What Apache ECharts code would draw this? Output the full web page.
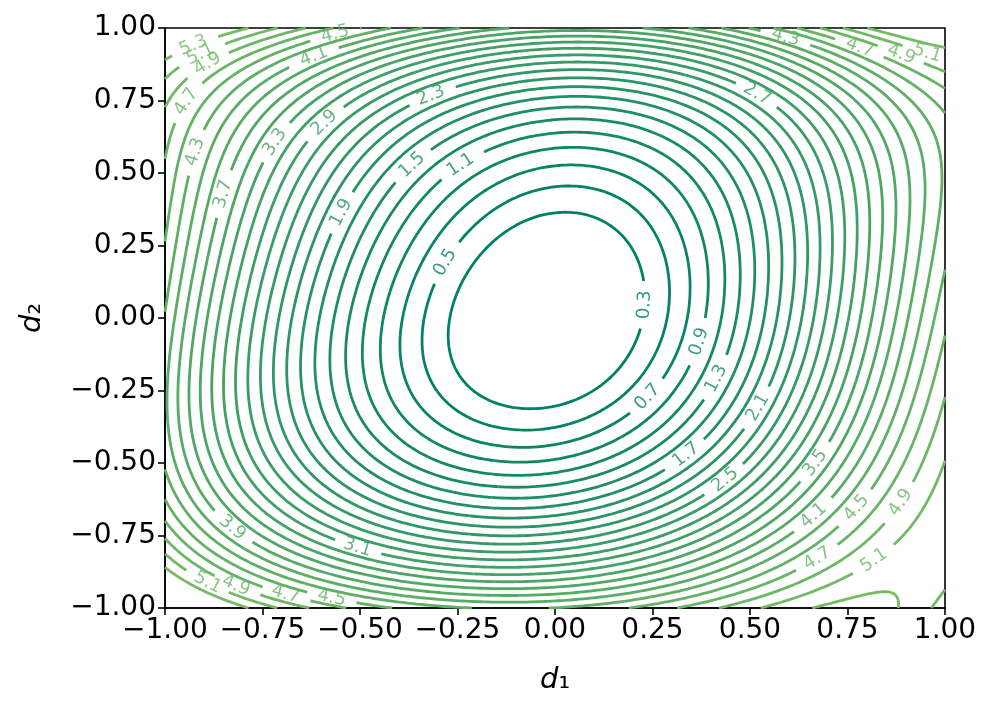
<!DOCTYPE html>
<html>
<head>
<meta charset="utf-8">
<script src="https://cdn.jsdelivr.net/npm/echarts@6/dist/echarts.min.js"></script>
<style>
  html, body { margin: 0; background: #fff; }
  #main { width: 996px; height: 710px; }
</style>
</head>
<body>
<div id="main"></div>
<script>
// contour levels drawn in the picture
const levels = [0.3, 0.5, 0.7, 0.9, 1.1, 1.3, 1.5, 1.7, 1.9, 2.1, 2.3, 2.5, 2.7,
                2.9, 3.1, 3.3, 3.5, 3.7, 3.9, 4.1, 4.3, 4.5, 4.7, 4.9, 5.1, 5.3];
const axisTicks = [-1, -0.75, -0.5, -0.25, 0, 0.25, 0.5, 0.75, 1];

// inline labels: level, d1, d2
const labelLevel = [5.3, 5.1, 4.9, 4.7, 4.3, 3.7, 4.5, 4.1, 3.3, 2.9, 1.9, 1.5, 1.1, 2.3, 0.5,
                    0.3, 0.7, 0.9, 1.7, 1.3, 2.1, 2.5, 3.5, 4.1, 4.5, 4.7, 4.9, 5.1,
                    4.3, 4.7, 4.9, 5.1, 2.7, 3.9, 3.1, 4.9, 4.7, 4.5, 5.1];
const labelD1 = [-0.932, -0.893, -0.855, -0.889, -0.885, -0.851, -0.560, -0.604, -0.679, -0.568, -0.560, -0.376, -0.248, -0.315, -0.291,
                 0.242, 0.237, 0.364, 0.315, 0.397, 0.483, 0.397, 0.603, 0.603, 0.722, 0.641, 0.880, 0.867,
                 0.573, 0.761, 0.867, 0.962, 0.479, -0.761, -0.487, -0.803, -0.679, -0.560, -0.893];
const labelD2 = [0.959, 0.867, 0.803, 0.689, 0.556, 0.430, 0.970, 0.849, 0.568, 0.637, 0.372, 0.539, 0.545, 0.752, 0.200,
                 0.045, -0.266, -0.083, -0.426, -0.202, -0.283, -0.490, -0.438, -0.599, -0.587, -0.766, -0.633, -0.927,
                 0.884, 0.849, 0.844, 0.930, 0.671, -0.616, -0.708, -0.886, -0.892, -0.909, -0.921];

// contour crossings along d2 = 0
const rowLevel = [0.3, 0.5, 0.7, 0.9, 1.1, 1.3, 1.5, 1.7, 1.9, 2.1, 2.3, 2.5, 2.7, 2.9, 3.1, 3.3, 3.5, 3.7, 3.9, 4.1,
                  0.3, 0.5, 0.7, 0.9, 1.1, 1.3, 1.5, 1.7, 1.9, 2.1, 2.3, 2.5, 2.7, 2.9, 3.1, 3.3, 3.5, 3.7, 3.9, 4.1, 4.3, 4.5];
const rowD1 = [-0.26, -0.346, -0.41, -0.464, -0.51, -0.551, -0.587, -0.622, -0.656, -0.688, -0.72, -0.75, -0.782, -0.81, -0.841, -0.872, -0.9, -0.929, -0.962, -0.99,
               0.237, 0.308, 0.353, 0.404, 0.449, 0.487, 0.519, 0.551, 0.579, 0.609, 0.638, 0.667, 0.695, 0.724, 0.754, 0.785, 0.814, 0.846, 0.878, 0.914, 0.955, 0.991];

// the innermost rings (extremes) and the bottom of the bowl
const ringLevel = [0.3, 0.3, 0.3, 0.3, 0.3, 0.5, 0.5, 0.5, 0.5, 0.5, 0.7, 0.0];
const ringD1 = [0.25, -0.272, 0.064, -0.081, 0, 0.03, -0.364, 0.325, -0.08, 0, 0.004, -0.01];
const ringD2 = [0.097, -0.087, 0.369, -0.349, 0.353, 0.478, -0.064, 0.062, -0.42, 0.462, 0.551, 0.01];

// outer contours: where they meet the frame (bottom, top, left, right),
// points along the two lowest-right lines, then the four corners
const edgeLevel = [4.5, 4.5, 4.7, 4.7, 4.9, 4.9, 5.1, 5.1, 4.3,
                   5.3, 5.1, 5.1, 4.9, 4.9, 4.7, 4.5, 4.3,
                   5.3, 5.1, 4.9, 4.7, 4.3, 4.5, 4.7, 4.9, 5.1,
                   5.1, 4.9, 4.7, 4.7, 4.9, 5.1,
                   5.1, 5.1, 4.9,
                   5.4, 5.18, 5.28, 5.22];
const edgeD1 = [-0.36, 0.15, -0.49, 0.33, -0.62, 0.48, -0.79, 0.744, -0.09,
                -0.87, -0.73, 0.918, -0.61, 0.71, 0.585, -0.52, 0.40,
                -1, -1, -1, -1, -1, -1, -1, -1, -1,
                1, 1, 1, 1, 1, 1,
                0.816, 0.919, 0.68,
                -1, 1, 1, -1];
const edgeD2 = [-1, -1, -1, -1, -1, -1, -1, -1, -0.985,
                1, 1, 1, 1, 1, 1, 1, 1,
                0.884, 0.752, 0.648, 0.552, 0.441, -0.47, -0.58, -0.686, -0.824,
                0.88, 0.694, 0.465, -0.155, -0.444, -0.81,
                -0.961, -0.886, -0.86,
                1, 1, -1, -1];

// ---- smooth surface through the read points (weighted least squares, degree 5) ----
const DEG = 5;
function basis(x, y) {
  const b = [];
  for (let d = 0; d <= DEG; d++)
    for (let j = 0; j <= d; j++) b.push(Math.pow(x, d - j) * Math.pow(y, j));
  return b;
}

function fitSurface(xs, ys, zs, ws) {
  const m = basis(0, 0).length;
  const M = Array.from({ length: m }, () => new Array(m + 1).fill(0));
  for (let k = 0; k < zs.length; k++) {
    const b = basis(xs[k], ys[k]);
    const w = ws[k] / (zs[k] + 0.05);
    for (let i = 0; i < m; i++) {
      for (let j = 0; j < m; j++) M[i][j] += w * b[i] * b[j];
      M[i][m] += w * b[i] * zs[k];
    }
  }
  for (let i = 0; i < m; i++) M[i][i] += 1e-3;
  for (let c = 0; c < m; c++) {
    let p = c;
    for (let r = c + 1; r < m; r++) if (Math.abs(M[r][c]) > Math.abs(M[p][c])) p = r;
    [M[c], M[p]] = [M[p], M[c]];
    for (let r = 0; r < m; r++) {
      if (r === c) continue;
      const f = M[r][c] / M[c][c];
      for (let k = c; k <= m; k++) M[r][k] -= f * M[c][k];
    }
  }
  return M.map((row, i) => row[m] / row[i]);
}

const sx = [].concat(labelD1, rowD1, ringD1, edgeD1);
const sy = [].concat(labelD2, rowD1.map(() => 0), ringD2, edgeD2);
const sz = [].concat(labelLevel, rowLevel, ringLevel, edgeLevel);
const sw = [].concat(labelLevel.map(() => 1.5), rowLevel.map(() => 1), ringLevel.map(() => 8), edgeLevel.map(() => 2));
const coef = fitSurface(sx, sy, sz, sw);
const surface = (x, y) => basis(x, y).reduce((s, b, i) => s + b * coef[i], 0);

// ---- marching squares ----
const N = 220;
const gx = [], gy = [];
for (let i = 0; i <= N; i++) { gx.push(-1 + 2 * i / N); gy.push(-1 + 2 * i / N); }
const F = gy.map(y => gx.map(x => surface(x, y)));

function traceLevel(L) {
  const pts = new Map(), nb = new Map();
  const hKey = (i, j) => {
    const k = 'h' + i + '_' + j;
    if (!pts.has(k)) {
      const t = (L - F[j][i]) / (F[j][i + 1] - F[j][i]);
      pts.set(k, [gx[i] + t * (gx[i + 1] - gx[i]), gy[j]]);
    }
    return k;
  };
  const vKey = (i, j) => {
    const k = 'v' + i + '_' + j;
    if (!pts.has(k)) {
      const t = (L - F[j][i]) / (F[j + 1][i] - F[j][i]);
      pts.set(k, [gx[i], gy[j] + t * (gy[j + 1] - gy[j])]);
    }
    return k;
  };
  const link = (p, q) => {
    if (!nb.has(p)) nb.set(p, []);
    if (!nb.has(q)) nb.set(q, []);
    nb.get(p).push(q);
    nb.get(q).push(p);
  };
  for (let j = 0; j < N; j++) {
    for (let i = 0; i < N; i++) {
      const a = F[j][i] > L, b = F[j][i + 1] > L, c = F[j + 1][i + 1] > L, d = F[j + 1][i] > L;
      const e = [];
      if (a !== b) e.push(hKey(i, j));
      if (b !== c) e.push(vKey(i + 1, j));
      if (c !== d) e.push(hKey(i, j + 1));
      if (d !== a) e.push(vKey(i, j));
      if (e.length === 2) link(e[0], e[1]);
      else if (e.length === 4) {
        const mid = (F[j][i] + F[j][i + 1] + F[j + 1][i + 1] + F[j + 1][i]) / 4 > L;
        if (mid === a) { link(e[0], e[1]); link(e[2], e[3]); }
        else { link(e[3], e[0]); link(e[1], e[2]); }
      }
    }
  }
  const seen = new Set();
  const lines = [];
  const walk = start => {
    const path = [start];
    seen.add(start);
    let cur = start;
    while (true) {
      const next = nb.get(cur).find(n => !seen.has(n));
      if (next === undefined) {
        if (path.length > 2 && nb.get(cur).includes(start)) path.push(start);
        break;
      }
      seen.add(next);
      path.push(next);
      cur = next;
    }
    return path.map(k => pts.get(k));
  };
  for (const [k, ns] of nb) if (ns.length === 1 && !seen.has(k)) lines.push(walk(k));
  for (const k of nb.keys()) if (!seen.has(k)) lines.push(walk(k));
  return lines.filter(l => l.length > 6);
}

// summer colormap, the drawn levels cover its lower half
function levelColor(L) {
  const t = 0.47 * (L - levels[0]) / (levels[levels.length - 1] - levels[0]);
  const r = Math.round(255 * t), g = Math.round(255 * (0.5 + 0.5 * t)), b = 102;
  return 'rgb(' + r + ',' + g + ',' + b + ')';
}

const fmt = v => (v < 0 ? '\u2212' : '') + Math.abs(v).toFixed(2);
const tickFont = 28;
const labelFont = 18;

const chart = echarts.init(document.getElementById('main'));

const axisCommon = {
  type: 'value',
  min: axisTicks[0],
  max: axisTicks[axisTicks.length - 1],
  interval: axisTicks[1] - axisTicks[0],
  splitLine: { show: false },
  axisLine: { show: true, onZero: false, lineStyle: { color: '#000', width: 1.6 } },
  axisTick: { show: true, length: 7, lineStyle: { color: '#000', width: 1.6 } },
  axisLabel: { color: '#000', fontSize: tickFont, fontFamily: 'DejaVu Sans', formatter: fmt, margin: 9, hideOverlap: false },
  nameLocation: 'middle',
  nameTextStyle: {
    rich: {
      i: { fontFamily: 'DejaVu Sans', fontStyle: 'italic', fontSize: 29, color: '#000' },
      s: { fontFamily: 'DejaVu Sans', fontSize: 29, color: '#000' }
    }
  }
};

chart.setOption({
  animation: false,
  backgroundColor: '#fff',
  grid: { left: 165, right: 51, top: 28, bottom: 102, show: true, borderColor: '#000', borderWidth: 1.6 },
  xAxis: Object.assign({}, axisCommon, { name: '{i|d}{s|\u2081}', nameGap: 58 }),
  yAxis: Object.assign({}, axisCommon, { name: '{i|d}{s|\u2082}', nameGap: 118 }),
  series: []
});

// pixel helpers through the chart's own axes
const toPx = p => chart.convertToPixel({ gridIndex: 0 }, p);

const lineSeries = [];
const labelData = [];

levels.forEach(L => {
  const lines = traceLevel(L).map(line => line.map(p => ({ d: p, px: toPx(p) })));
  const color = levelColor(L);
  const text = L.toFixed(1);
  const half = labelFont * 1.59 / 2;
  const cuts = [];
  labelLevel.forEach((lv, idx) => {
    if (Math.abs(lv - L) > 1e-6) return;
    const target = toPx([labelD1[idx], labelD2[idx]]);
    let best = null, bestD = Infinity;
    lines.forEach((line, li) => line.forEach((p, k) => {
      const dd = Math.hypot(p.px[0] - target[0], p.px[1] - target[1]);
      if (dd < bestD) { bestD = dd; best = [li, k]; }
    }));
    if (!best) return;
    const line = lines[best[0]];
    const k = best[1];
    const a = line[Math.max(0, k - 4)].px, b = line[Math.min(line.length - 1, k + 4)].px;
    let ang = Math.atan2(-(b[1] - a[1]), b[0] - a[0]) * 180 / Math.PI;
    if (ang > 90) ang -= 180;
    if (ang < -90) ang += 180;
    const c = line[k];
    cuts.push({ x: c.px[0], y: c.px[1], r: half + 9 });
    labelData.push({ name: text, value: c.d, label: { rotate: ang, color: color } });
  });
  const pieces = [];
  lines.forEach(line => {
    let cur = [];
    line.forEach(p => {
      const hidden = cuts.some(c => Math.hypot(p.px[0] - c.x, p.px[1] - c.y) < c.r);
      if (hidden) {
        if (cur.length > 1) pieces.push(cur);
        cur = [];
      } else cur.push(p.d);
    });
    if (cur.length > 1) pieces.push(cur);
  });
  lineSeries.push({
    type: 'lines',
    coordinateSystem: 'cartesian2d',
    polyline: true,
    silent: true,
    lineStyle: { color: color, width: 2.8, opacity: 1, join: 'round' },
    data: pieces.map(c => ({ coords: c }))
  });
});

chart.setOption({
  series: lineSeries.concat([{
    type: 'scatter',
    symbolSize: 0,
    silent: true,
    z: 5,
    label: {
      show: true,
      position: 'inside',
      formatter: '{b}',
      fontFamily: 'DejaVu Sans',
      fontSize: labelFont
    },
    data: labelData
  }])
});
</script>
</body>
</html>
